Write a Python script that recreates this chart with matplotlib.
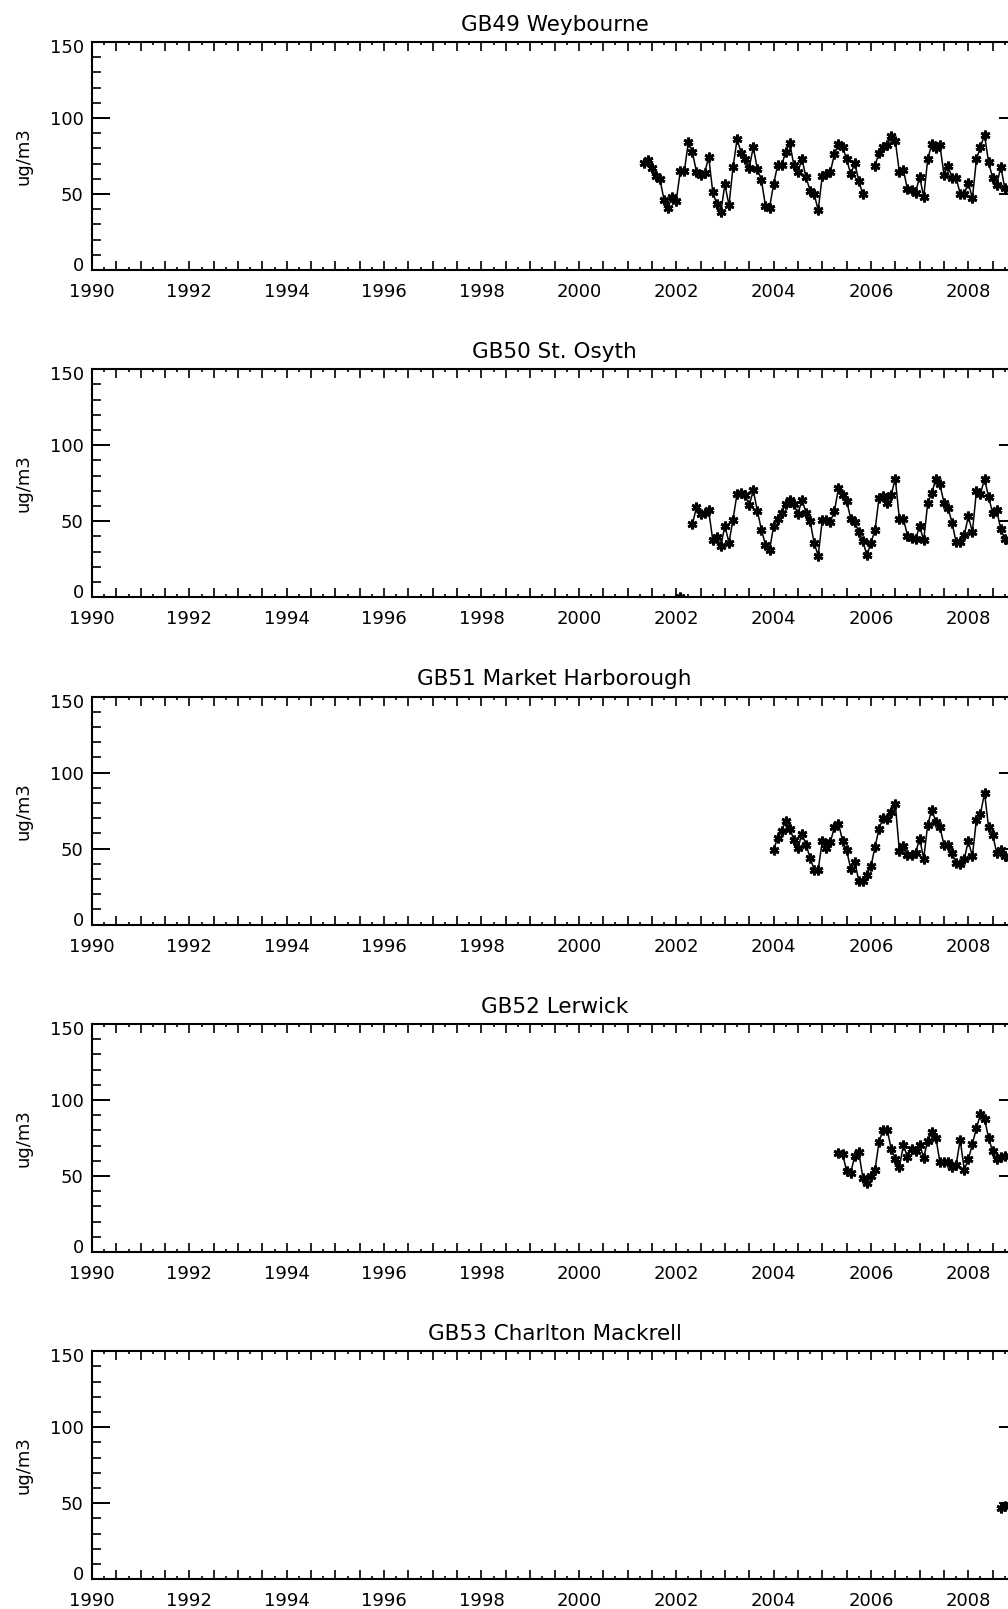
import numpy as np
import matplotlib
matplotlib.use("Agg")
import matplotlib.pyplot as plt
from matplotlib.ticker import MultipleLocator, FuncFormatter
from matplotlib.transforms import ScaledTranslation

nan = np.nan

titles = ["GB49 Weybourne", "GB50 St. Osyth", "GB51 Market Harborough",
          "GB52 Lerwick", "GB53 Charlton Mackrell"]

# start (year, month) of each monthly series
starts = [(2001, 5), (2002, 2), (2004, 1), (2005, 5), (2008, 9)]

weybourne = [70.6, 72.4, 67.3, 61.8, 59.6, 46.1, 41.0, 48.2, 45.6, 64.9, 64.9, 84.4,
             77.4, 64.5, 62.3, 63.6, 74.6, 51.5, 43.2, 38.2, 56.4, 42.5, 67.5, 86.0,
             77.2, 72.8, 67.3, 80.9, 66.4, 59.2, 42.1, 41.0, 56.4, 68.9, 68.9, 77.9,
             83.3, 68.9, 64.5, 73.0, 61.0, 52.2, 49.8, 39.5, 61.8, 62.9, 64.7, 76.1,
             83.1, 81.1, 72.8, 63.2, 70.2, 58.8, 49.8, nan, nan, 68.6, 77.2, 81.1,
             82.0, 88.4, 85.1, 64.5, 65.8, 53.1, 52.4, 50.9, 61.4, 48.2, 73.0, 82.9,
             80.0, 82.2, 62.7, 68.4, 60.7, 60.7, 50.0, 50.0, 57.5, 47.1, 72.8, 81.1,
             88.8, 70.8, 60.5, 55.9, 68.0, 53.7, 53.5]

st_osyth = [0.5, nan, nan,
            48.0, 59.4, 54.8, 55.3, 57.2, 37.9, 39.7, 33.8, 47.1, 36.0, 51.1, 68.2,
            68.9, 67.5, 60.5, 70.4, 56.8, 44.5, 34.6, 30.9, 46.7, 51.3, 55.7, 61.2,
            64.3, 61.6, 54.6, 64.3, 55.5, 50.2, 35.7, 27.4, 50.7, 50.7, 49.8, 56.6,
            71.9, 67.1, 63.6, 51.8, 49.6, 43.0, 37.1, 27.6, 36.0, 44.1, 65.6, 66.9,
            62.1, 67.5, 78.1, 51.8, 51.8, 40.6, 39.0, 38.4, 46.7, 37.5, 62.1, 68.6,
            77.9, 74.3, 62.3, 59.0, 48.9, 36.2, 36.2, 40.8, 53.3, 43.0, 69.9, 68.2,
            77.9, 66.0, 55.5, 57.2, 44.7, 38.6, 37.0]

market_harborough = [49.3, 57.0, 61.8, 68.0, 63.2, 55.9, 50.4, 59.9, 52.6, 43.9, 36.2, 36.2,
                     54.8, 50.4, 54.2, 64.3, 66.4, 55.3, 48.9, 36.8, 41.2, 28.9, 28.9, 32.9,
                     38.4, 51.1, 63.2, 70.2, 69.5, 74.1, 79.4, 48.7, 51.5, 46.1, 46.1, 47.1,
                     56.6, 43.4, 65.8, 75.7, 67.5, 64.0, 52.6, 52.6, 47.1, 40.6, 40.1, 43.2,
                     55.0, 45.0, 69.1, 73.0, 86.6, 64.0, 59.2, 47.1, 49.3, 45.0, 44.0]

lerwick = [65.0, 64.6, 53.2, 51.9, 63.0, 65.6, 48.9, 45.6, 49.8, 53.7, 72.6, 80.4,
           80.4, 67.8, 61.3, 55.6, 70.4, 62.4, 67.8, 66.1, 70.4, 62.1, 73.2, 78.7,
           75.0, 59.1, 59.1, 59.1, 55.9, 57.4, 73.7, 54.1, 60.8, 70.9, 81.5, 90.5,
           87.4, 75.0, 66.1, 60.8, 62.4, 63.0, 63.0]

charlton_mackrell = [47.0, 48.0, 48.0]

series = [weybourne, st_osyth, market_harborough, lerwick, charlton_mackrell]

xlim = (1990, 2009)
ylim = (0, 150)

plt.rcParams['font.family'] = ['DejaVu Sans']

fig = plt.figure(figsize=(10.08, 16.09), dpi=100)
W, H = 1008, 1609
left_px, right_px = 92, 1017
ax_h = 228
tops = [42 + 327.3 * i for i in range(5)]


def xfmt(v, pos):
    r = round(v)
    if abs(v - r) < 1e-6 and r % 2 == 0:
        return "%d" % r
    return ""


axes = []
for i, (title, vals, (sy, sm)) in enumerate(zip(titles, series, starts)):
    top = tops[i]
    ax = fig.add_axes([left_px / W, 1 - (top + ax_h) / H,
                       (right_px - left_px) / W, ax_h / H])
    vals = np.array(vals, dtype=float)
    t = sy + (sm - 1) / 12.0 + np.arange(len(vals)) / 12.0
    ax.plot(t, vals, color='black', lw=1.1, marker=(6, 2, 0), ms=7, mew=2.0)
    ax.set_xlim(*xlim)
    ax.set_ylim(*ylim)
    ax.xaxis.set_major_locator(MultipleLocator(0.5))
    ax.xaxis.set_minor_locator(MultipleLocator(0.25))
    ax.xaxis.set_major_formatter(FuncFormatter(xfmt))
    ax.yaxis.set_major_locator(MultipleLocator(50))
    ax.yaxis.set_minor_locator(MultipleLocator(10))
    ax.tick_params(axis='x', which='major', direction='in', length=6.5, width=1.2,
                   top=True, bottom=True, labelsize=13, pad=9.4)
    ax.tick_params(axis='x', which='minor', direction='in', length=2.5, width=1.2,
                   top=True, bottom=True)
    ax.tick_params(axis='y', which='major', direction='in', length=13, width=1.4,
                   left=True, right=True, labelsize=13, pad=6)
    ax.tick_params(axis='y', which='minor', direction='in', length=6.5, width=1.2,
                   left=True, right=True)
    for s in ax.spines.values():
        s.set_linewidth(1.5)
    ax.set_title(title, fontsize=15.5, pad=8)
    ax.set_ylabel("ug/m3", fontsize=13)
    ax.yaxis.set_label_coords(-0.064, 0.5)
    axes.append(ax)

fig.canvas.draw()
for ax in axes:
    for tick in ax.yaxis.get_major_ticks():
        loc = tick.get_loc()
        lab = tick.label1
        if abs(loc - 0) < 1e-6:
            lab.set_transform(lab.get_transform() +
                              ScaledTranslation(0, 0.06, fig.dpi_scale_trans))
        elif abs(loc - 150) < 1e-6:
            lab.set_transform(lab.get_transform() +
                              ScaledTranslation(0, -0.04, fig.dpi_scale_trans))

fig.savefig("out.png", dpi=100)
